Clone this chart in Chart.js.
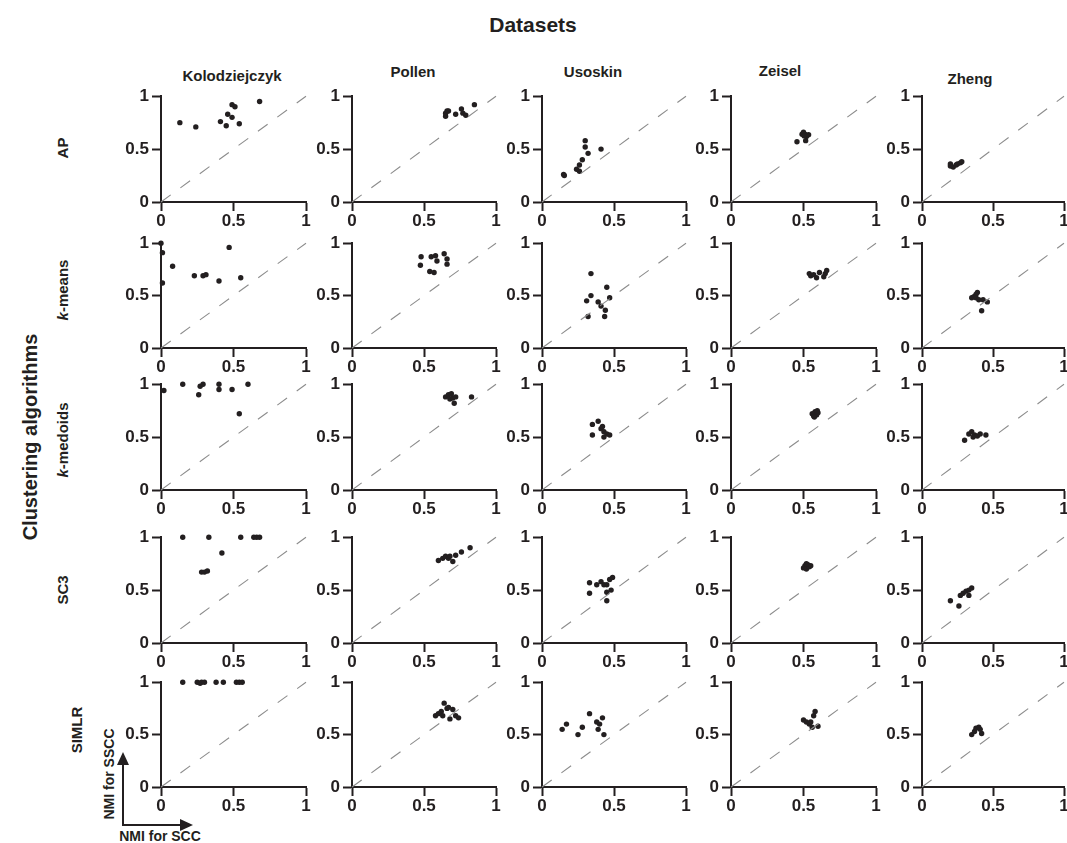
<!DOCTYPE html>
<html>
<head>
<meta charset="utf-8">
<script src="https://cdn.jsdelivr.net/npm/chart.js@4.4.1/dist/chart.umd.min.js"></script>
<style>
  html, body { margin: 0; padding: 0; background: #fff; overflow: hidden; }
  body { width: 1067px; height: 843px; position: relative; font-family: "Liberation Sans", Arial, sans-serif; color: #231f20; }
  .lbl { position: absolute; white-space: nowrap; font-weight: bold; transform: translate(-50%, -50%); }
  .rot { transform: translate(-50%, -50%) rotate(-90deg); }
  canvas { position: absolute; }
</style>
</head>
<body>
<div class="lbl" style="left:533px;top:25px;font-size:21px;">Datasets</div>
<div class="lbl rot" style="left:30px;top:437px;font-size:20px;">Clustering algorithms</div>
<div id="labels"></div>
<svg style="position:absolute;left:0;top:0" width="1067" height="843">
  <line x1="123" y1="825" x2="123" y2="762" stroke="#231f20" stroke-width="2"/>
  <polygon points="117,765 129,765 123,752" fill="#231f20"/>
  <line x1="122" y1="825" x2="183" y2="825" stroke="#231f20" stroke-width="2"/>
  <polygon points="180,819 180,831 193,825" fill="#231f20"/>
</svg>
<div class="lbl rot" style="left:109px;top:774px;font-size:14px;">NMI for SSCC</div>
<div class="lbl" style="left:160px;top:836px;font-size:14px;">NMI for SCC</div>

<script>
// Column (dataset) and row (clustering algorithm) names
const datasetNames = ['Kolodziejczyk', 'Pollen', 'Usoskin', 'Zeisel', 'Zheng'];
const algorithmNames = ['AP', 'k-means', 'k-medoids', 'SC3', 'SIMLR'];
const tickValues = [0, 0.5, 1];

// Each pair: [NMI for SCC, NMI for SSCC]
const ap_kolodziejczyk = [[0.13,0.75],[0.24,0.71],[0.41,0.76],[0.45,0.72],[0.46,0.83],[0.49,0.80],[0.49,0.92],[0.51,0.90],[0.54,0.74],[0.68,0.95]];
const ap_pollen = [[0.65,0.81],[0.65,0.84],[0.66,0.86],[0.67,0.86],[0.72,0.83],[0.76,0.88],[0.77,0.84],[0.79,0.82],[0.85,0.92]];
const ap_usoskin = [[0.15,0.26],[0.155,0.25],[0.24,0.31],[0.26,0.29],[0.26,0.35],[0.28,0.40],[0.30,0.58],[0.30,0.52],[0.32,0.46],[0.41,0.50]];
const ap_zeisel = [[0.455,0.57],[0.49,0.64],[0.50,0.66],[0.51,0.64],[0.52,0.62],[0.515,0.58],[0.505,0.625],[0.535,0.635]];
const ap_zheng = [[0.20,0.34],[0.20,0.36],[0.22,0.33],[0.24,0.35],[0.25,0.36],[0.27,0.37],[0.28,0.38]];

const kmeans_kolodziejczyk = [[0,1.0],[0.01,0.91],[0.01,0.62],[0.08,0.78],[0.23,0.69],[0.29,0.69],[0.31,0.70],[0.40,0.64],[0.47,0.96],[0.55,0.67]];
const kmeans_pollen = [[0.48,0.87],[0.475,0.79],[0.55,0.87],[0.58,0.88],[0.59,0.83],[0.54,0.73],[0.57,0.72],[0.64,0.90],[0.66,0.85],[0.66,0.80]];
const kmeans_usoskin = [[0.34,0.71],[0.45,0.58],[0.34,0.50],[0.31,0.45],[0.39,0.44],[0.41,0.40],[0.47,0.48],[0.44,0.36],[0.435,0.30],[0.32,0.30]];
const kmeans_zeisel = [[0.54,0.71],[0.55,0.69],[0.59,0.67],[0.61,0.72],[0.64,0.68],[0.65,0.71],[0.66,0.74],[0.57,0.70]];
const kmeans_zheng = [[0.35,0.48],[0.365,0.49],[0.38,0.51],[0.39,0.53],[0.38,0.48],[0.40,0.46],[0.43,0.46],[0.46,0.44],[0.42,0.355]];

const kmedoids_kolodziejczyk = [[0.02,0.94],[0.15,1.0],[0.26,0.90],[0.27,0.98],[0.29,1.0],[0.40,1.0],[0.40,0.95],[0.49,0.95],[0.54,0.72],[0.60,1.0]];
const kmedoids_pollen = [[0.65,0.88],[0.67,0.90],[0.68,0.86],[0.70,0.87],[0.71,0.82],[0.72,0.88],[0.69,0.91],[0.83,0.88]];
const kmedoids_usoskin = [[0.35,0.62],[0.39,0.65],[0.35,0.52],[0.41,0.58],[0.43,0.55],[0.43,0.50],[0.45,0.53],[0.47,0.52],[0.42,0.60]];
const kmedoids_zeisel = [[0.56,0.72],[0.57,0.70],[0.58,0.74],[0.59,0.71],[0.60,0.73],[0.575,0.69],[0.595,0.75]];
const kmedoids_zheng = [[0.30,0.47],[0.33,0.53],[0.35,0.55],[0.37,0.52],[0.39,0.51],[0.41,0.53],[0.45,0.52],[0.36,0.50]];

const sc3_kolodziejczyk = [[0.15,1.0],[0.28,0.67],[0.30,0.67],[0.32,0.68],[0.33,1.0],[0.42,0.85],[0.55,1.0],[0.64,1.0],[0.66,1.0],[0.68,1.0]];
const sc3_pollen = [[0.60,0.78],[0.63,0.80],[0.65,0.82],[0.67,0.80],[0.68,0.82],[0.70,0.77],[0.72,0.83],[0.76,0.86],[0.82,0.90]];
const sc3_usoskin = [[0.33,0.57],[0.33,0.47],[0.38,0.55],[0.41,0.58],[0.43,0.55],[0.45,0.55],[0.45,0.48],[0.45,0.40],[0.47,0.60],[0.49,0.62],[0.48,0.50]];
const sc3_zeisel = [[0.50,0.71],[0.51,0.73],[0.52,0.70],[0.53,0.74],[0.54,0.72],[0.55,0.73],[0.52,0.75]];
const sc3_zheng = [[0.20,0.40],[0.26,0.35],[0.27,0.45],[0.29,0.47],[0.31,0.49],[0.33,0.50],[0.35,0.52],[0.33,0.45]];

const simlr_kolodziejczyk = [[0.15,1.0],[0.25,1.0],[0.27,0.99],[0.28,1.0],[0.30,1.0],[0.38,1.0],[0.43,1.0],[0.52,1.0],[0.54,1.0],[0.56,1.0]];
const simlr_pollen = [[0.58,0.68],[0.60,0.70],[0.62,0.72],[0.63,0.68],[0.64,0.80],[0.66,0.75],[0.68,0.65],[0.70,0.74],[0.72,0.68],[0.74,0.66],[0.67,0.76]];
const simlr_usoskin = [[0.14,0.55],[0.17,0.60],[0.25,0.50],[0.28,0.57],[0.33,0.70],[0.38,0.62],[0.39,0.55],[0.40,0.60],[0.42,0.66],[0.43,0.50]];
const simlr_zeisel = [[0.50,0.64],[0.52,0.62],[0.54,0.60],[0.55,0.62],[0.56,0.57],[0.57,0.68],[0.58,0.72],[0.60,0.58]];
const simlr_zheng = [[0.35,0.50],[0.37,0.53],[0.38,0.56],[0.40,0.57],[0.41,0.55],[0.42,0.51]];

const panelData = [
  [ap_kolodziejczyk, ap_pollen, ap_usoskin, ap_zeisel, ap_zheng],
  [kmeans_kolodziejczyk, kmeans_pollen, kmeans_usoskin, kmeans_zeisel, kmeans_zheng],
  [kmedoids_kolodziejczyk, kmedoids_pollen, kmedoids_usoskin, kmedoids_zeisel, kmedoids_zheng],
  [sc3_kolodziejczyk, sc3_pollen, sc3_usoskin, sc3_zeisel, sc3_zheng],
  [simlr_kolodziejczyk, simlr_pollen, simlr_usoskin, simlr_zeisel, simlr_zheng]
];

// Layout: plot-area edges in page pixels
const colLeft = [161, 352, 542, 731, 922];
const colRight = [306, 496, 686, 876, 1064];
const rowTop = [95, 242, 383, 536, 681];
const rowBottom = [202, 348, 490, 643, 787];
const colTitlePos = [[232, 75], [413, 71], [593, 71], [780, 70], [970, 78]];
const rowTitlePos = [[62, 148], [62, 290], [62, 440], [62, 590], [76, 730]];

const INK = '#231f20';
const FONT = '"Liberation Sans", Arial, sans-serif';
const Y_AXIS_W = 40, X_AXIS_H = 30, PAD_T = 12, PAD_R = 6;

const labels = document.getElementById('labels');
datasetNames.forEach((name, i) => {
  const d = document.createElement('div');
  d.className = 'lbl';
  d.style.left = colTitlePos[i][0] + 'px';
  d.style.top = colTitlePos[i][1] + 'px';
  d.style.fontSize = '15px';
  d.textContent = name;
  labels.appendChild(d);
});
algorithmNames.forEach((name, i) => {
  const d = document.createElement('div');
  d.className = 'lbl rot';
  d.style.left = rowTitlePos[i][0] + 'px';
  d.style.top = rowTitlePos[i][1] + 'px';
  d.style.fontSize = '15px';
  if (name.startsWith('k-')) {
    d.innerHTML = '<i>k</i>' + name.slice(1);
  } else {
    d.textContent = name;
  }
  labels.appendChild(d);
});

function axis(position) {
  const horizontal = position === 'bottom';
  return {
    type: 'linear',
    position: position,
    min: 0,
    max: 1,
    afterFit: s => { if (horizontal) s.height = X_AXIS_H; else s.width = Y_AXIS_W; },
    afterBuildTicks: s => { s.ticks = tickValues.map(v => ({ value: v })); },
    ticks: {
      color: INK,
      font: { family: FONT, size: 17, weight: 'bold' },
      padding: horizontal ? 0 : 3,
      maxRotation: 0,
      callback: v => String(v)
    },
    grid: { drawOnChartArea: false, drawTicks: true, tickLength: 9, tickWidth: 2, color: INK },
    border: { display: true, width: 2, color: INK }
  };
}

for (let r = 0; r < 5; r++) {
  for (let c = 0; c < 5; c++) {
    const w = colRight[c] - colLeft[c];
    const h = rowBottom[r] - rowTop[r];
    const cv = document.createElement('canvas');
    const cw = Y_AXIS_W + w + PAD_R;
    const ch = PAD_T + h + X_AXIS_H;
    cv.width = cw; cv.height = ch;
    cv.style.width = cw + 'px'; cv.style.height = ch + 'px';
    cv.style.left = (colLeft[c] - Y_AXIS_W) + 'px';
    cv.style.top = (rowTop[r] - PAD_T) + 'px';
    document.body.appendChild(cv);

    new Chart(cv, {
      type: 'scatter',
      data: {
        datasets: [
          {
            data: [{ x: 0, y: 0 }, { x: 1, y: 1 }],
            showLine: true,
            borderColor: '#8c8c8c',
            borderWidth: 1.1,
            borderDash: [12, 12],
            pointRadius: 0,
            clip: false
          },
          {
            data: panelData[r][c].map(p => ({ x: p[0], y: p[1] })),
            backgroundColor: INK,
            borderColor: INK,
            borderWidth: 0,
            pointRadius: 2.7,
            clip: false
          }
        ]
      },
      options: {
        responsive: false,
        animation: false,
        events: [],
        layout: { padding: { top: PAD_T, right: PAD_R, left: 0, bottom: 0 } },
        plugins: { legend: { display: false }, tooltip: { enabled: false } },
        scales: { x: axis('bottom'), y: axis('left') }
      }
    });
  }
}
</script>
</body>
</html>
